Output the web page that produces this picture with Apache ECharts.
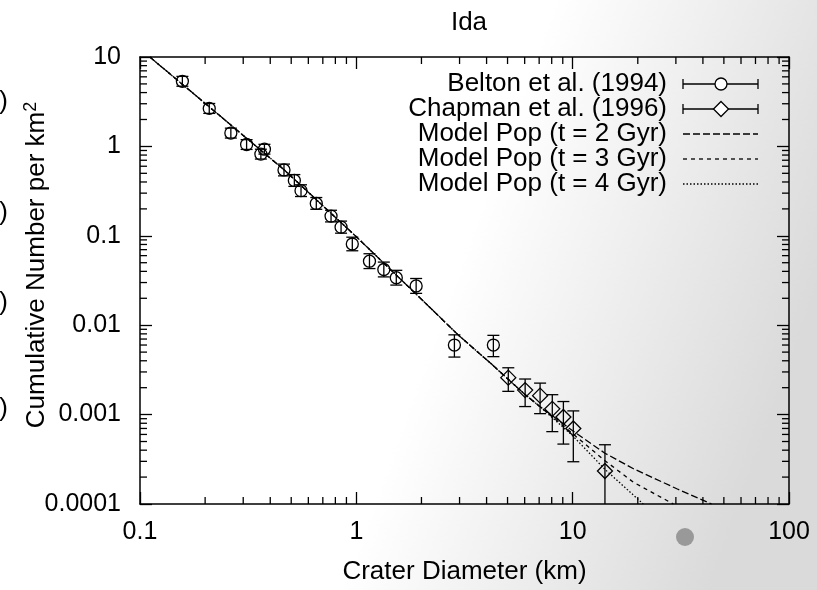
<!DOCTYPE html>
<html><head><meta charset="utf-8">
<script src="https://cdn.jsdelivr.net/npm/echarts@6/dist/echarts.min.js"></script>
<style>html,body{margin:0;padding:0;background:#fff}#c{width:817px;height:590px}</style>
</head><body><div id="c"></div>
<script>
const FONT = '"Liberation Sans", Arial, Helvetica, sans-serif';
const FS = 26;      // titles, legend
const FST = 25;     // tick labels

// Belton et al. (1994): diameter (km), cumulative number per km^2, error low/high
const beltonD  = [0.157, 0.209, 0.263, 0.311, 0.362, 0.376, 0.463, 0.517, 0.555, 0.653, 0.764, 0.85, 0.958, 1.15, 1.34, 1.53, 1.89, 2.84, 4.30];
const beltonN  = [5.35, 2.66, 1.41, 1.05, 0.82, 0.93, 0.545, 0.416, 0.32, 0.23, 0.166, 0.125, 0.081, 0.052, 0.042, 0.034, 0.0275, 0.006, 0.006];
const beltonLo = [4.71, 2.34, 1.24, 0.925, 0.722, 0.82, 0.468, 0.357, 0.275, 0.198, 0.143, 0.107, 0.068, 0.043, 0.0347, 0.0281, 0.0227, 0.00440, 0.00445];
const beltonHi = [6.07, 3.02, 1.60, 1.19, 0.93, 1.055, 0.634, 0.484, 0.372, 0.268, 0.193, 0.146, 0.0965, 0.063, 0.0508, 0.0411, 0.0333, 0.0078, 0.0077];

// Chapman et al. (1996)
const chapmanD  = [5.04, 6.03, 7.07, 8.05, 9.06, 10.07, 14.1];
const chapmanN  = [0.00259, 0.00188, 0.00163, 0.00116, 0.00094, 0.0007, 0.000234];
const chapmanLo = [0.00182, 0.00123, 0.001025, 0.000645, 0.000468, 0.000297, 0.00005];
const chapmanHi = [0.00334, 0.0025, 0.00225, 0.00167, 0.0014, 0.0011, 0.00046];

// Model populations
const model2D = [0.111, 0.2, 0.463, 1.0, 2.0, 2.96, 4.15, 5.0, 6.0, 7.0, 10, 14.1, 19.1, 30.3, 43.9];
const model2N = [10, 3.03, 0.549, 0.0975, 0.0195, 0.00776, 0.0038, 0.00252, 0.00169, 0.00125, 0.00066, 0.00037, 0.000248, 0.000148, 0.0001];
const model3D = [0.111, 0.2, 0.463, 1.0, 2.0, 2.96, 4.15, 5.0, 6.0, 7.0, 10, 14.1, 19.1, 29.2];
const model3N = [10, 3.03, 0.549, 0.0975, 0.0195, 0.00776, 0.0038, 0.00252, 0.00169, 0.00125, 0.000612, 0.000305, 0.000175, 0.0001];
const model4D = [0.111, 0.2, 0.463, 1.0, 2.0, 2.96, 4.15, 5.0, 6.0, 7.0, 10, 14.1, 21.2];
const model4N = [10, 3.03, 0.549, 0.0975, 0.0195, 0.00776, 0.0038, 0.00252, 0.00169, 0.00125, 0.00058, 0.000244, 0.0001];

// Axis tick labels and minor ticks
const xTickLabels = ['0.1', '1', '10', '100'];
const yTickLabels = ['0.0001', '0.001', '0.01', '0.1', '1', '10'];
const xMinor = [0.2,0.3,0.4,0.5,0.6,0.7,0.8,0.9, 2,3,4,5,6,7,8,9, 20,30,40,50,60,70,80,90];
const yMinor = [0.0002,0.0003,0.0004,0.0005,0.0006,0.0007,0.0008,0.0009,
                0.002,0.003,0.004,0.005,0.006,0.007,0.008,0.009,
                0.02,0.03,0.04,0.05,0.06,0.07,0.08,0.09,
                0.2,0.3,0.4,0.5,0.6,0.7,0.8,0.9,
                2,3,4,5,6,7,8,9];

const legendLabels = ['Belton et al. (1994)', 'Chapman et al. (1996)', 'Model Pop (t = 2 Gyr)', 'Model Pop (t = 3 Gyr)', 'Model Pop (t = 4 Gyr)'];

const LW = 1.3;
const DASH2 = [7, 3], DASH3 = [4, 4], DASH4 = [1.5, 2];

function zip4(a, b, c, d) { return a.map((v, i) => [v, b[i], c[i], d[i]]); }
function zip2(a, b) { return a.map((v, i) => [v, b[i]]); }

function diamondPts(cx, cy, r) { return [[cx, cy - r], [cx + r, cy], [cx, cy + r], [cx - r, cy]]; }

function errRender(shape) {
  return function (params, api) {
    const x = api.value(0), y = api.value(1), lo = api.value(2), hi = api.value(3);
    const cs = params.coordSys;
    const bottom = cs.y + cs.height;
    const pc = api.coord([x, y]);
    const plo = api.coord([x, Math.max(lo, 1e-4)]);
    const phi = api.coord([x, hi]);
    const st = { stroke: '#000', lineWidth: LW, fill: 'none' };
    const cap = 6;
    const ch = [
      { type: 'line', shape: { x1: pc[0], y1: phi[1], x2: pc[0], y2: Math.min(plo[1], bottom) }, style: st },
      { type: 'line', shape: { x1: pc[0] - cap, y1: phi[1], x2: pc[0] + cap, y2: phi[1] }, style: st }
    ];
    if (lo >= 1e-4) ch.push({ type: 'line', shape: { x1: pc[0] - cap, y1: plo[1], x2: pc[0] + cap, y2: plo[1] }, style: st });
    if (shape === 'circle') ch.push({ type: 'circle', shape: { cx: pc[0], cy: pc[1], r: 6 }, style: st });
    else ch.push({ type: 'polygon', shape: { points: diamondPts(pc[0], pc[1], 7.5) }, style: st });
    return { type: 'group', children: ch };
  };
}

function minorXRender(params, api) {
  const cs = params.coordSys;
  const p = api.coord([api.value(0), 1]);
  const st = { stroke: '#000', lineWidth: LW };
  return { type: 'group', children: [
    { type: 'line', shape: { x1: p[0], y1: cs.y + cs.height, x2: p[0], y2: cs.y + cs.height - 7 }, style: st },
    { type: 'line', shape: { x1: p[0], y1: cs.y, x2: p[0], y2: cs.y + 7 }, style: st }
  ]};
}
function minorYRender(params, api) {
  const cs = params.coordSys;
  const p = api.coord([1, api.value(1)]);
  const st = { stroke: '#000', lineWidth: LW };
  return { type: 'group', children: [
    { type: 'line', shape: { x1: cs.x, y1: p[1], x2: cs.x + 7, y2: p[1] }, style: st },
    { type: 'line', shape: { x1: cs.x + cs.width, y1: p[1], x2: cs.x + cs.width - 7, y2: p[1] }, style: st }
  ]};
}

function lineSeries(name, d, n, dash) {
  return { name, type: 'line', data: zip2(d, n), showSymbol: false, symbol: 'none', smooth: false, clip: true,
    lineStyle: { color: '#000', width: LW, type: dash }, z: 3, silent: true };
}

const axisCommon = {
  type: 'log', logBase: 10,
  axisLine: { show: true, onZero: false, lineStyle: { color: '#000', width: 1.5 } },
  axisTick: { show: true, inside: true, length: 12, lineStyle: { color: '#000', width: LW } },
  splitLine: { show: false }, minorTick: { show: false }
};

const labelStyle = { color: '#000', fontSize: FST, fontFamily: FONT };

// legend drawing
const LX_TEXT = 667, LX1 = 683, LX2 = 758, LXM = 721;
const rowY = [84, 109, 134, 159, 184];
const legendEls = [];
const gst = { stroke: '#000', lineWidth: LW, fill: 'none' };
legendLabels.forEach((t, i) => {
  legendEls.push({ type: 'text', x: LX_TEXT, y: rowY[i], style: { text: t, font: FS + 'px ' + FONT, fill: '#000', align: 'right', verticalAlign: 'middle' } });
});
[0, 1].forEach(i => {
  const y = rowY[i];
  legendEls.push({ type: 'line', shape: { x1: LX1, y1: y, x2: LX2, y2: y }, style: gst });
  legendEls.push({ type: 'line', shape: { x1: LX1, y1: y - 5, x2: LX1, y2: y + 5 }, style: gst });
  legendEls.push({ type: 'line', shape: { x1: LX2, y1: y - 5, x2: LX2, y2: y + 5 }, style: gst });
  if (i === 0) legendEls.push({ type: 'circle', shape: { cx: LXM, cy: y, r: 6 }, style: { stroke: '#000', lineWidth: LW, fill: '#fff' } });
  else legendEls.push({ type: 'polygon', shape: { points: diamondPts(LXM, y, 7.5) }, style: { stroke: '#000', lineWidth: LW, fill: '#fff' } });
});
[DASH2, DASH3, DASH4].forEach((d, k) => {
  const y = rowY[2 + k];
  legendEls.push({ type: 'line', shape: { x1: LX1, y1: y, x2: LX2, y2: y }, style: { stroke: '#000', lineWidth: LW, lineDash: d } });
});

const chart = echarts.init(document.getElementById('c'), null, { renderer: 'canvas' });
chart.setOption({
  animation: false,
  backgroundColor: { type: 'linear', x: 0, y: 0, x2: 1, y2: 0.5, colorStops: [
    { offset: 0, color: '#ffffff' }, { offset: 0.6, color: '#ffffff' }, { offset: 1, color: '#dadada' } ] },
  title: { text: 'Ida', left: 464, top: 5, textAlign: 'center',
    textStyle: { fontSize: FS, fontWeight: 'normal', color: '#000', fontFamily: FONT } },
  grid: { left: 140, right: 28, top: 57, bottom: 78, containLabel: false },
  xAxis: [
    Object.assign({}, axisCommon, { position: 'bottom', min: 0.1, max: 100,
      axisLabel: Object.assign({ margin: 16, formatter: v => xTickLabels[Math.round(Math.log10(v)) + 1] }, labelStyle),
      name: 'Crater Diameter (km)', nameLocation: 'middle', nameGap: 55,
      nameTextStyle: { color: '#000', fontSize: FS, fontFamily: FONT } }),
    Object.assign({}, axisCommon, { position: 'top', min: 0.1, max: 100, axisLabel: { show: false } })
  ],
  yAxis: [
    Object.assign({}, axisCommon, { position: 'left', min: 0.0001, max: 10,
      axisLabel: Object.assign({ margin: 19, formatter: v => yTickLabels[Math.round(Math.log10(v)) + 4] }, labelStyle) }),
    Object.assign({}, axisCommon, { position: 'right', min: 0.0001, max: 10, axisLabel: { show: false } })
  ],
  graphic: [
    { type: 'text', x: 37, y: 265, rotation: Math.PI / 2,
      style: { text: '{a|Cumulative Number per km}{s|2}', align: 'center', verticalAlign: 'middle',
        rich: { a: { fontSize: FS, fontFamily: FONT, fill: '#000', color: '#000', lineHeight: 30 },
                s: { fontSize: 18, fontFamily: FONT, fill: '#000', color: '#000', verticalAlign: 'top', lineHeight: 30 } } } },
    { type: 'text', x: 8, y: 102, style: { text: ')', font: FS + 'px ' + FONT, fill: '#000', align: 'right', verticalAlign: 'middle' } },
    { type: 'text', x: 8, y: 213, style: { text: ')', font: FS + 'px ' + FONT, fill: '#000', align: 'right', verticalAlign: 'middle' } },
    { type: 'text', x: 8, y: 303, style: { text: ')', font: FS + 'px ' + FONT, fill: '#000', align: 'right', verticalAlign: 'middle' } },
    { type: 'text', x: 8, y: 409, style: { text: ')', font: FS + 'px ' + FONT, fill: '#000', align: 'right', verticalAlign: 'middle' } },
    { type: 'circle', shape: { cx: 685, cy: 537, r: 9 }, style: { fill: '#999' } }
  ].concat(legendEls),
  series: [
    lineSeries('Model Pop (t = 2 Gyr)', model2D, model2N, DASH2),
    lineSeries('Model Pop (t = 3 Gyr)', model3D, model3N, DASH3),
    lineSeries('Model Pop (t = 4 Gyr)', model4D, model4N, DASH4),
    { name: 'Belton et al. (1994)', type: 'custom', renderItem: errRender('circle'), data: zip4(beltonD, beltonN, beltonLo, beltonHi), z: 4, silent: true },
    { name: 'Chapman et al. (1996)', type: 'custom', renderItem: errRender('diamond'), data: zip4(chapmanD, chapmanN, chapmanLo, chapmanHi), z: 4, silent: true },
    { type: 'custom', renderItem: minorXRender, data: xMinor.map(v => [v, 1]), z: 5, silent: true },
    { type: 'custom', renderItem: minorYRender, data: yMinor.map(v => [1, v]), z: 5, silent: true }
  ]
});
</script></body></html>
